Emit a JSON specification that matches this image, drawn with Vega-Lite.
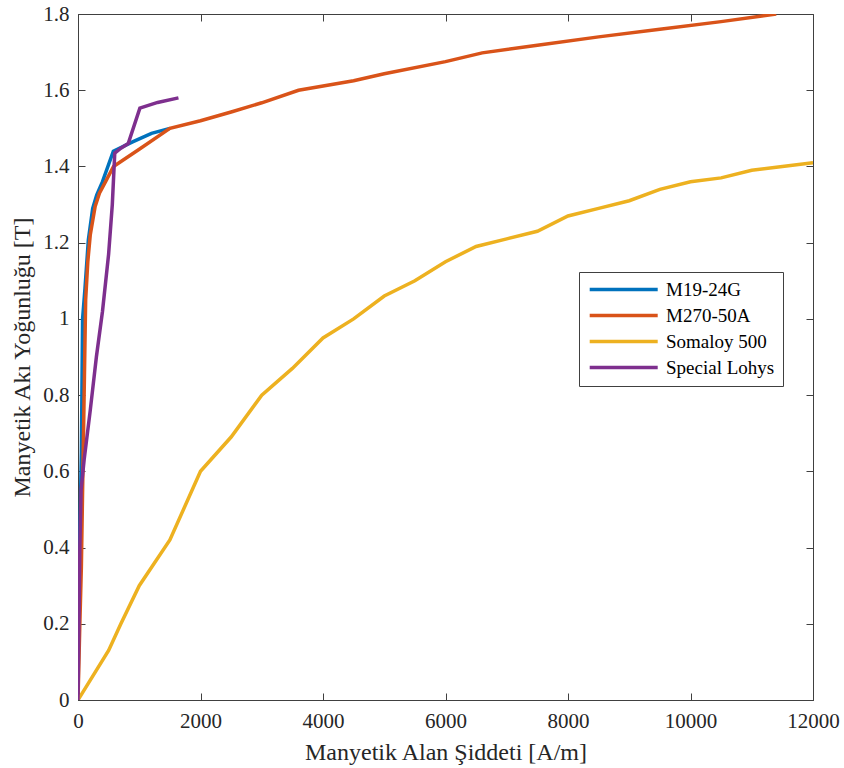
{
  "$schema": "https://vega.github.io/schema/vega-lite/v6.json",
  "width": 735,
  "height": 686,
  "autosize": {"type": "none"},
  "padding": {"left": 78, "top": 14, "right": 31, "bottom": 68},
  "background": "white",
  "config": {
    "font": "Times New Roman, Liberation Serif, serif",
    "view": {"stroke": "#404040", "strokeWidth": 1},
    "axis": {
      "domainColor": "#404040",
      "tickColor": "#404040",
      "labelColor": "#262626",
      "titleColor": "#262626",
      "labelFontSize": 21,
      "titleFontSize": 24,
      "titleFontWeight": "normal",
      "grid": false,
      "tickSize": -7
    }
  },
  "data": {
    "values": [
      {"s": "M19-24G", "H": 0, "B": 0},
      {"s": "M19-24G", "H": 15, "B": 0.3},
      {"s": "M19-24G", "H": 55, "B": 0.65},
      {"s": "M19-24G", "H": 75, "B": 1.0},
      {"s": "M19-24G", "H": 114, "B": 1.08},
      {"s": "M19-24G", "H": 169, "B": 1.207},
      {"s": "M19-24G", "H": 240, "B": 1.29},
      {"s": "M19-24G", "H": 305, "B": 1.325},
      {"s": "M19-24G", "H": 400, "B": 1.36},
      {"s": "M19-24G", "H": 577, "B": 1.44},
      {"s": "M19-24G", "H": 900, "B": 1.465},
      {"s": "M19-24G", "H": 1200, "B": 1.487},
      {"s": "M19-24G", "H": 1500, "B": 1.5},
      {"s": "M270-50A", "H": 0, "B": 0},
      {"s": "M270-50A", "H": 30, "B": 0.2},
      {"s": "M270-50A", "H": 55, "B": 0.35},
      {"s": "M270-50A", "H": 85, "B": 0.65},
      {"s": "M270-50A", "H": 105, "B": 0.85},
      {"s": "M270-50A", "H": 125, "B": 1.05},
      {"s": "M270-50A", "H": 160, "B": 1.15},
      {"s": "M270-50A", "H": 200, "B": 1.22},
      {"s": "M270-50A", "H": 280, "B": 1.295},
      {"s": "M270-50A", "H": 350, "B": 1.33},
      {"s": "M270-50A", "H": 450, "B": 1.36},
      {"s": "M270-50A", "H": 580, "B": 1.4},
      {"s": "M270-50A", "H": 1000, "B": 1.445},
      {"s": "M270-50A", "H": 1500, "B": 1.5},
      {"s": "M270-50A", "H": 2000, "B": 1.52},
      {"s": "M270-50A", "H": 2500, "B": 1.543},
      {"s": "M270-50A", "H": 3000, "B": 1.567},
      {"s": "M270-50A", "H": 3600, "B": 1.6},
      {"s": "M270-50A", "H": 4500, "B": 1.625},
      {"s": "M270-50A", "H": 5000, "B": 1.643},
      {"s": "M270-50A", "H": 6000, "B": 1.675},
      {"s": "M270-50A", "H": 6600, "B": 1.698},
      {"s": "M270-50A", "H": 7500, "B": 1.718},
      {"s": "M270-50A", "H": 8500, "B": 1.74},
      {"s": "M270-50A", "H": 9500, "B": 1.76},
      {"s": "M270-50A", "H": 10500, "B": 1.78},
      {"s": "M270-50A", "H": 11400, "B": 1.8},
      {"s": "Somaloy 500", "H": 0, "B": 0},
      {"s": "Somaloy 500", "H": 500, "B": 0.13},
      {"s": "Somaloy 500", "H": 700, "B": 0.2},
      {"s": "Somaloy 500", "H": 1000, "B": 0.3},
      {"s": "Somaloy 500", "H": 1500, "B": 0.42},
      {"s": "Somaloy 500", "H": 2000, "B": 0.6},
      {"s": "Somaloy 500", "H": 2500, "B": 0.69},
      {"s": "Somaloy 500", "H": 3000, "B": 0.8},
      {"s": "Somaloy 500", "H": 3500, "B": 0.87},
      {"s": "Somaloy 500", "H": 4000, "B": 0.95},
      {"s": "Somaloy 500", "H": 4500, "B": 1.0},
      {"s": "Somaloy 500", "H": 5000, "B": 1.06},
      {"s": "Somaloy 500", "H": 5500, "B": 1.1},
      {"s": "Somaloy 500", "H": 6000, "B": 1.15},
      {"s": "Somaloy 500", "H": 6500, "B": 1.19},
      {"s": "Somaloy 500", "H": 7000, "B": 1.21},
      {"s": "Somaloy 500", "H": 7500, "B": 1.23},
      {"s": "Somaloy 500", "H": 8000, "B": 1.27},
      {"s": "Somaloy 500", "H": 8500, "B": 1.29},
      {"s": "Somaloy 500", "H": 9000, "B": 1.31},
      {"s": "Somaloy 500", "H": 9500, "B": 1.34},
      {"s": "Somaloy 500", "H": 10000, "B": 1.36},
      {"s": "Somaloy 500", "H": 10500, "B": 1.37},
      {"s": "Somaloy 500", "H": 11000, "B": 1.39},
      {"s": "Somaloy 500", "H": 11500, "B": 1.4},
      {"s": "Somaloy 500", "H": 12000, "B": 1.41},
      {"s": "Special Lohys", "H": 0, "B": 0},
      {"s": "Special Lohys", "H": 15, "B": 0.2},
      {"s": "Special Lohys", "H": 30, "B": 0.4},
      {"s": "Special Lohys", "H": 50, "B": 0.55},
      {"s": "Special Lohys", "H": 100, "B": 0.63},
      {"s": "Special Lohys", "H": 200, "B": 0.76},
      {"s": "Special Lohys", "H": 300, "B": 0.9},
      {"s": "Special Lohys", "H": 400, "B": 1.02},
      {"s": "Special Lohys", "H": 500, "B": 1.17},
      {"s": "Special Lohys", "H": 560, "B": 1.3},
      {"s": "Special Lohys", "H": 600, "B": 1.435},
      {"s": "Special Lohys", "H": 700, "B": 1.448},
      {"s": "Special Lohys", "H": 820, "B": 1.46},
      {"s": "Special Lohys", "H": 1010, "B": 1.553},
      {"s": "Special Lohys", "H": 1300, "B": 1.568},
      {"s": "Special Lohys", "H": 1640, "B": 1.58}
    ]
  },
  "layer": [
    {
      "mark": {"type": "line", "strokeWidth": 3.5, "clip": true},
      "encoding": {
        "x": {
          "field": "H", "type": "quantitative",
          "scale": {"domain": [0, 12000], "nice": false},
          "axis": {"title": "Manyetik Alan Şiddeti [A/m]", "values": [0, 2000, 4000, 6000, 8000, 10000, 12000], "format": "d", "labelPadding": 17, "titlePadding": 9, "labelFlush": false, "labelFont": "Times New Roman, Liberation Serif, serif", "labelFontSize": 21, "titleFont": "Times New Roman, Liberation Serif, serif", "titleFontSize": 24}
        },
        "y": {
          "field": "B", "type": "quantitative",
          "scale": {"domain": [0, 1.8], "nice": false},
          "axis": {"title": "Manyetik Akı Yoğunluğu [T]", "values": [0, 0.2, 0.4, 0.6, 0.8, 1, 1.2, 1.4, 1.6, 1.8], "format": "~g", "labelPadding": 16, "titlePadding": 8, "labelFont": "Times New Roman, Liberation Serif, serif", "labelFontSize": 21, "titleFont": "Times New Roman, Liberation Serif, serif", "titleFontSize": 24}
        },
        "color": {
          "field": "s", "type": "nominal",
          "scale": {"domain": ["M19-24G", "M270-50A", "Somaloy 500", "Special Lohys"], "range": ["#0072BD", "#D95319", "#EDB120", "#7E2F8E"]},
          "legend": {
            "title": null,
            "orient": "none",
            "legendX": 501,
            "legendY": 258,
            "strokeColor": "#404040",
            "fillColor": "white",
            "padding": 8,
            "symbolType": "M-1,0H9",
            "symbolSize": 185,
            "symbolStrokeWidth": 3.5,
            "labelFontSize": 19,
            "labelFont": "Times New Roman, Liberation Serif, serif",
            "labelColor": "#000000",
            "labelExpr": "datum.label + '\u00a0\u00a0\u00a0\u00a0\u00a0'",
            "rowPadding": 6,
            "labelOffset": 60
          }
        }
      }
    },
    {
      "mark": {"type": "point", "opacity": 0},
      "encoding": {
        "x": {"field": "H", "type": "quantitative", "axis": {"orient": "top", "labels": false, "title": null, "values": [0, 2000, 4000, 6000, 8000, 10000, 12000], "domain": false}},
        "y": {"field": "B", "type": "quantitative", "axis": {"orient": "right", "labels": false, "title": null, "values": [0, 0.2, 0.4, 0.6, 0.8, 1, 1.2, 1.4, 1.6, 1.8], "domain": false}}
      }
    }
  ],
  "resolve": {"axis": {"x": "independent", "y": "independent"}}
}
